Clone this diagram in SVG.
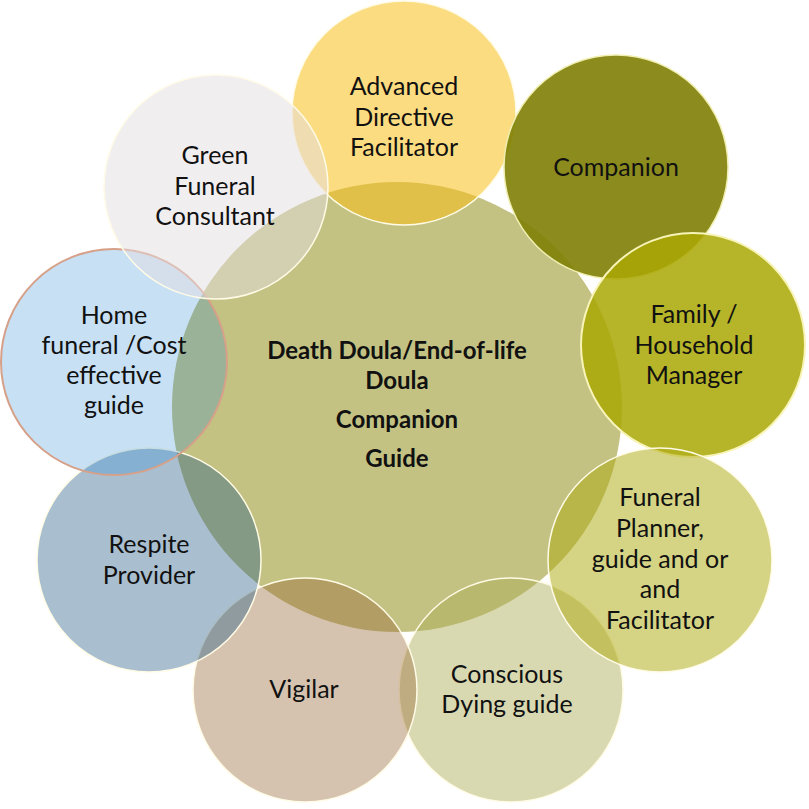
<svg xmlns="http://www.w3.org/2000/svg" width="809" height="809" viewBox="0 0 809 809">
<style>
.lbl{font-family:Lato,"Liberation Sans",sans-serif;font-size:25px;fill:#111;text-anchor:middle}
.ctr{font-family:Lato,"Liberation Sans",sans-serif;font-size:24px;font-weight:bold;fill:#111;text-anchor:middle}
.ring{stroke:#fffbe6;stroke-width:1.5}
</style>
<rect width="809" height="809" fill="#ffffff"/>
<g id="connectors"></g>
<g id="node-center">
<circle cx="397" cy="407" r="225" fill="#c3c283"/>
<text class="ctr" x="397" y="359">Death Doula/End-of-life</text>
<text class="ctr" x="397" y="389">Doula</text>
<text class="ctr" x="397" y="428">Companion</text>
<text class="ctr" x="397" y="467">Guide</text>
</g>
<g id="node-advanced">
<circle class="ring" cx="404" cy="113" r="112" fill="#f8bf18" fill-opacity="0.55"/>
<text class="lbl" x="404" y="95">Advanced</text>
<text class="lbl" x="404" y="126">Directive</text>
<text class="lbl" x="404" y="156">Facilitator</text>
</g>
<g id="node-companion">
<circle cx="616" cy="167" r="112" fill="#7f8006" fill-opacity="0.9" stroke="#f0eeb0" stroke-width="1.5"/>
<text class="lbl" x="616" y="176">Companion</text>
</g>
<g id="node-family">
<circle cx="693" cy="345" r="112" fill="#a9a704" fill-opacity="0.85" stroke="#f8f4b8" stroke-width="2"/>
<text class="lbl" x="694" y="323">Family /</text>
<text class="lbl" x="694" y="354">Household</text>
<text class="lbl" x="694" y="384">Manager</text>
</g>
<g id="node-conscious">
<circle class="ring" cx="511" cy="690" r="112" fill="#acac55" fill-opacity="0.46"/>
<text class="lbl" x="507" y="683">Conscious</text>
<text class="lbl" x="507" y="713">Dying guide</text>
</g>
<g id="node-funeral-planner">
<circle class="ring" cx="660" cy="560" r="112" fill="#b0ac17" fill-opacity="0.53"/>
<text class="lbl" x="660" y="506">Funeral</text>
<text class="lbl" x="660" y="537">Planner,</text>
<text class="lbl" x="660" y="568">guide and or</text>
<text class="lbl" x="660" y="598">and</text>
<text class="lbl" x="660" y="629">Facilitator</text>
</g>
<g id="node-vigilar">
<circle class="ring" cx="305" cy="690" r="112" fill="#996937" fill-opacity="0.4"/>
<text class="lbl" x="304" y="698">Vigilar</text>
</g>
<g id="node-respite">
<circle class="ring" cx="149" cy="560" r="112" fill="#285f8a" fill-opacity="0.4"/>
<text class="lbl" x="149" y="553">Respite</text>
<text class="lbl" x="149" y="584">Provider</text>
</g>
<g id="node-home-funeral">
<circle cx="114" cy="362" r="113" fill="#1f83d3" fill-opacity="0.25" stroke="#d6a089" stroke-width="2"/>
<text class="lbl" x="114" y="324">Home</text>
<text class="lbl" x="114" y="354">funeral /Cost</text>
<text class="lbl" x="114" y="384">effective</text>
<text class="lbl" x="114" y="414">guide</text>
</g>
<g id="node-green-funeral">
<circle class="ring" cx="216" cy="187" r="112" fill="#e3dde1" fill-opacity="0.5"/>
<text class="lbl" x="215" y="164">Green</text>
<text class="lbl" x="215" y="195">Funeral</text>
<text class="lbl" x="215" y="225">Consultant</text>
</g>
</svg>
